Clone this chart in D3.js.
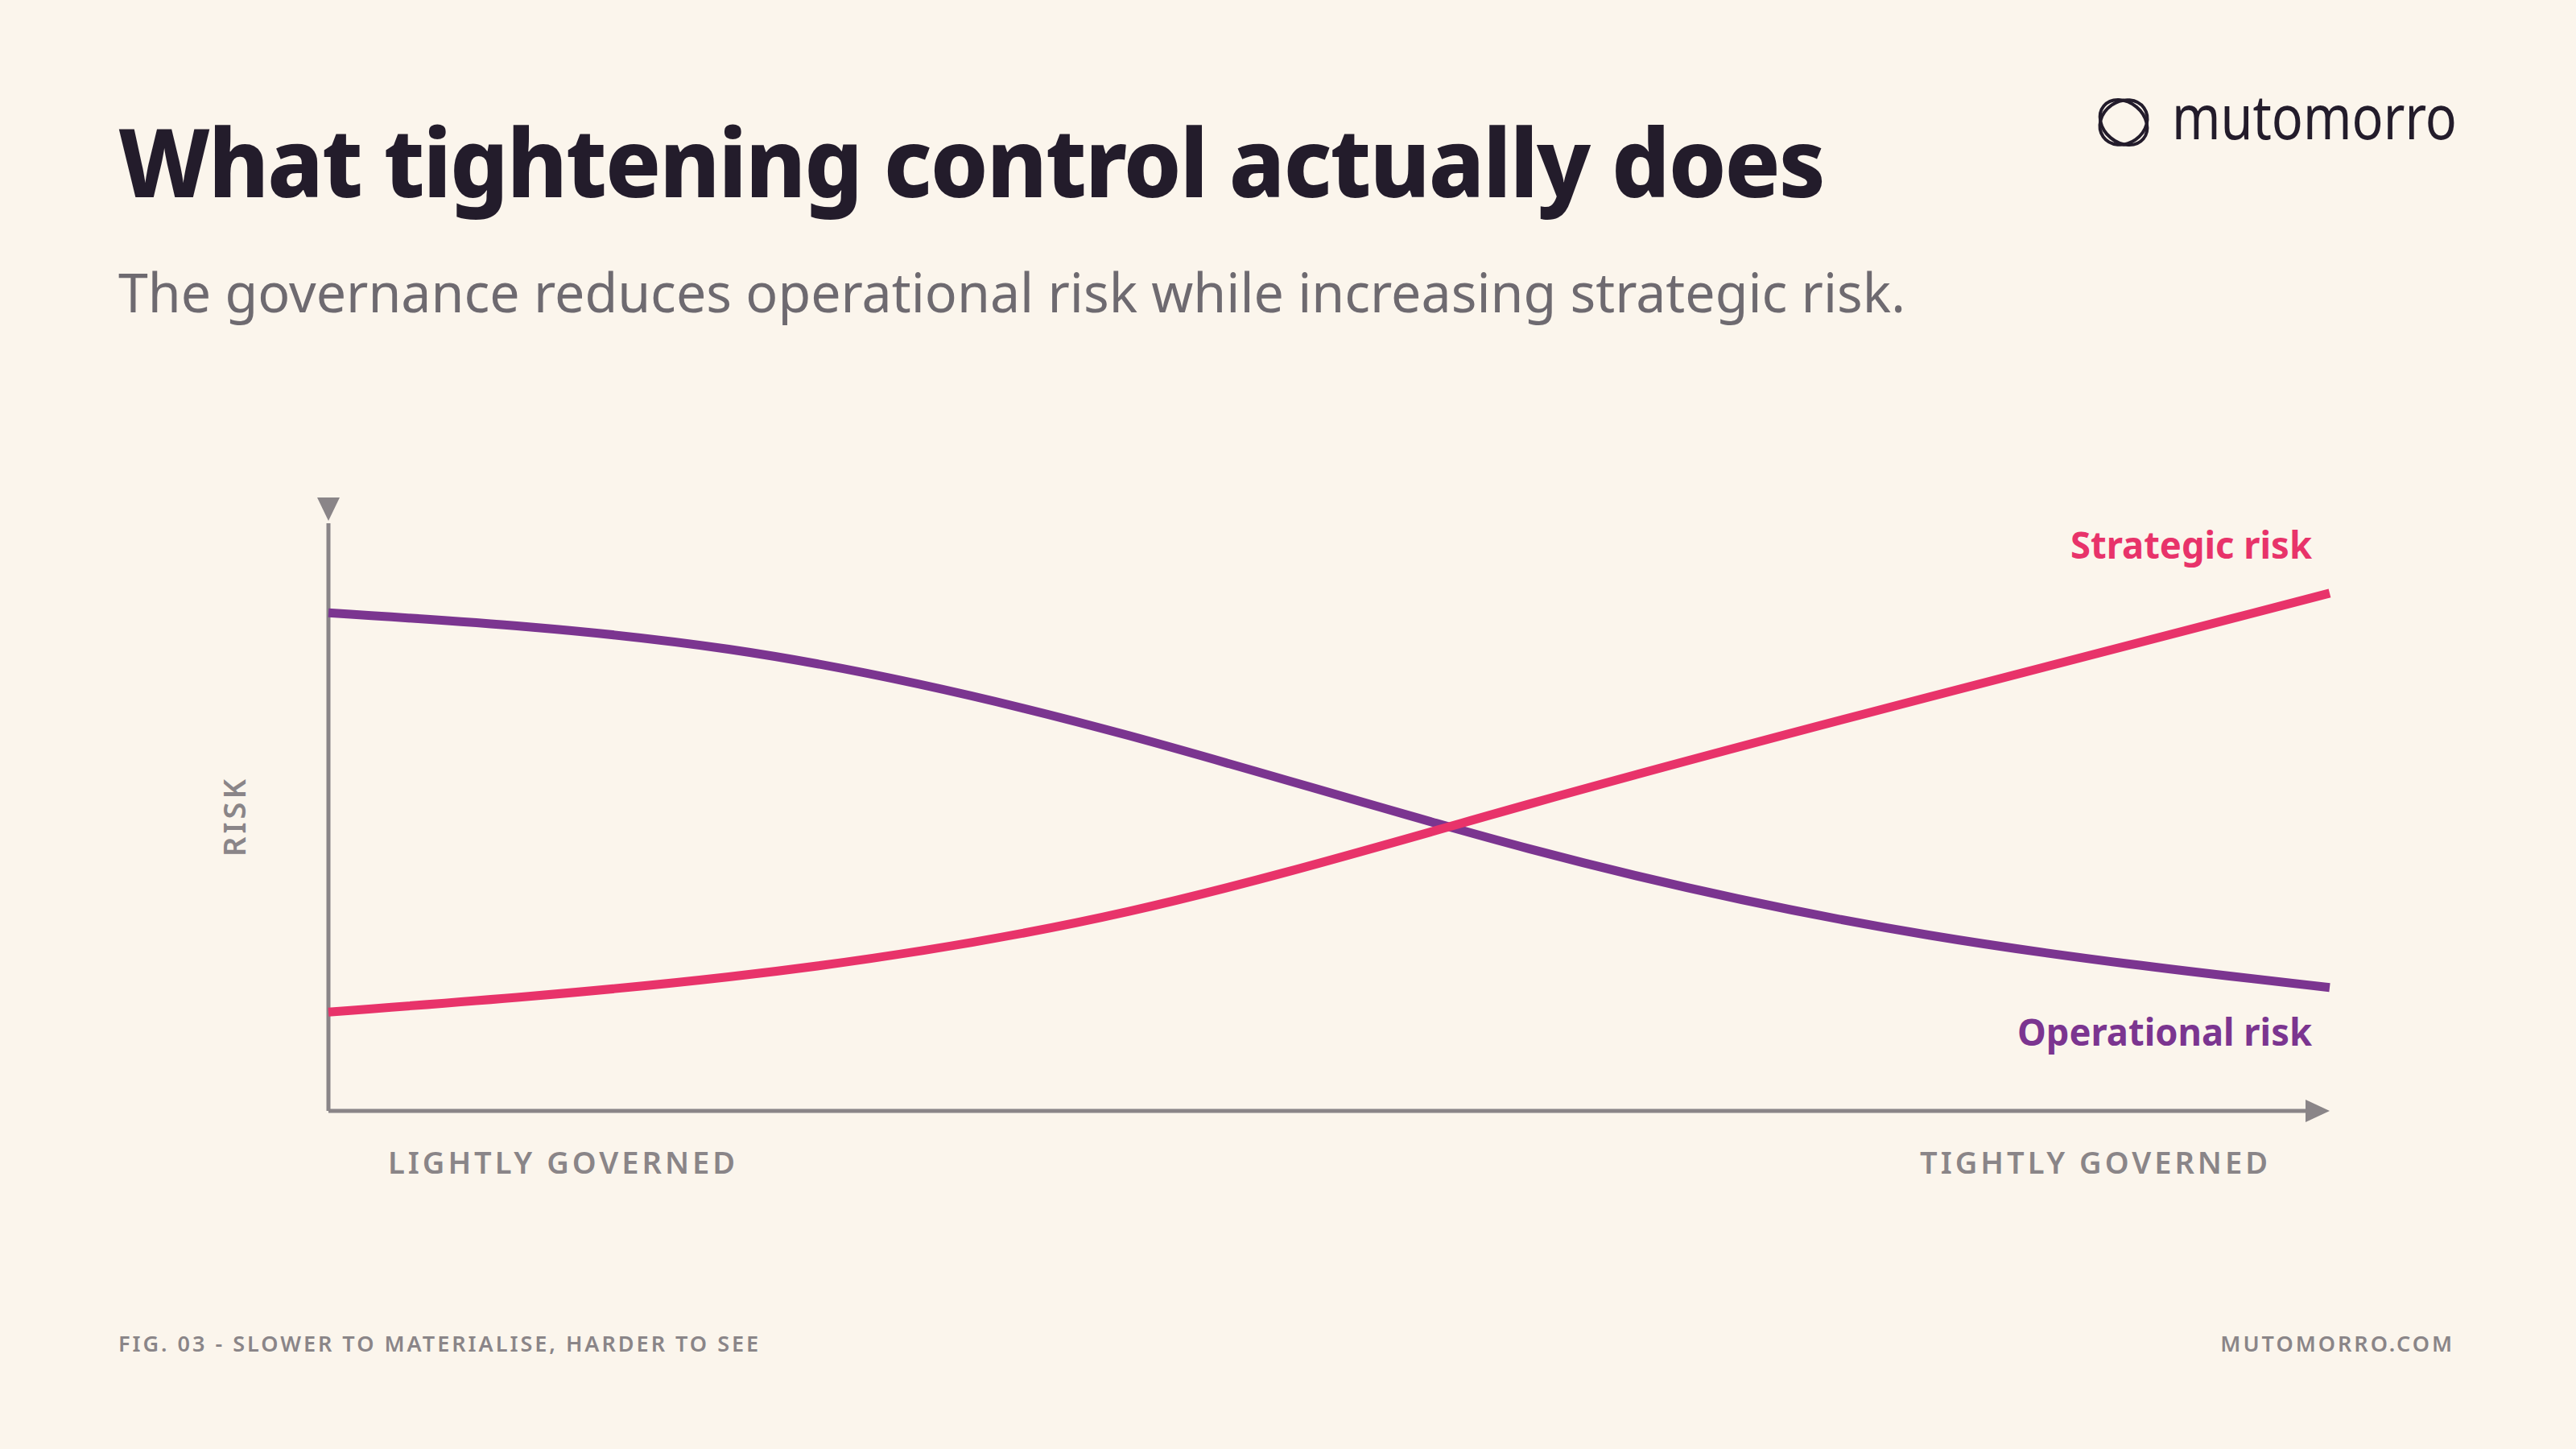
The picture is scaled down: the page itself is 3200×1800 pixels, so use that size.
<!DOCTYPE html>
<html><head><meta charset="utf-8">
<script src="https://cdn.jsdelivr.net/npm/d3@7"></script>
<style>body{margin:0;background:#fbf5ec}svg{display:block}</style>
</head><body><svg id="c" width="3200" height="1800"></svg>
<script>
const xSteps = [0, 2, 4, 6, 8, 10];
const strategicRisk = [16.6, 22.5, 33.5, 51.5, 69.5, 86.9];
const operationalRisk = [83.6, 77.5, 63, 44, 29.5, 20.7];
const xLabels = ["LIGHTLY GOVERNED", "TIGHTLY GOVERNED"];
const yLabel = "RISK";

const svg = d3.select("#c");
svg.append("rect").attr("width",3200).attr("height",1800).attr("fill","#fbf5ec");
const F = "'Source Sans Pro','Noto Sans',sans-serif";

svg.append("text").attr("x",147).attr("y",245).attr("font-family",F).attr("font-weight",800)
  .attr("font-size",118).attr("fill","#231c2b").attr("letter-spacing",-2).attr("textLength",2119).attr("lengthAdjust","spacingAndGlyphs")
  .text("What tightening control actually does");
svg.append("text").attr("x",147).attr("y",388).attr("font-family",F).attr("font-size",68).attr("fill","#6e6a70")
  .attr("textLength",2220).attr("lengthAdjust","spacingAndGlyphs")
  .text("The governance reduces operational risk while increasing strategic risk.");

// logo
const lg = svg.append("g").attr("transform","translate(2638,152)").attr("fill","none").attr("stroke","#231c2b").attr("stroke-width",4);
lg.append("ellipse").attr("rx",32).attr("ry",25).attr("transform","rotate(40)");
lg.append("ellipse").attr("rx",31).attr("ry",26).attr("transform","rotate(-35)");
svg.append("text").attr("x",2698).attr("y",173).attr("font-family",F).attr("font-size",76).attr("fill","#231c2b")
  .attr("textLength",354).attr("lengthAdjust","spacingAndGlyphs").text("mutomorro");

const x = d3.scaleLinear().domain([0,10]).range([408,2894]);
const y = d3.scaleLinear().domain([0,100]).range([1380,640]);
const axisC = "#8a8588";
svg.append("line").attr("x1",x(0)).attr("x2",x(10)-20).attr("y1",y(0)).attr("y2",y(0)).attr("stroke",axisC).attr("stroke-width",5);
svg.append("line").attr("x1",x(0)).attr("x2",x(0)).attr("y1",y(0)).attr("y2",y(0)-730).attr("stroke",axisC).attr("stroke-width",5);
svg.append("path").attr("d",`M${x(10)},${y(0)} l-30,-14 v28 z`).attr("fill",axisC);
svg.append("path").attr("d",`M${x(0)},${y(0)-733} l-14,-29 h28 z`).attr("fill",axisC);

const line = d3.line().x((d,i)=>x(xSteps[i])).y(d=>y(d)).curve(d3.curveNatural);
svg.append("path").attr("d",line(operationalRisk)).attr("fill","none").attr("stroke","#7b3590").attr("stroke-width",11);
svg.append("path").attr("d",line(strategicRisk)).attr("fill","none").attr("stroke","#e8336a").attr("stroke-width",11);

svg.append("text").attr("x",2872).attr("y",694).attr("text-anchor","end").attr("font-family",F).attr("font-weight",700)
  .attr("font-size",46).attr("fill","#e8336a").attr("textLength",300).attr("lengthAdjust","spacingAndGlyphs").text("Strategic risk");
svg.append("text").attr("x",2872).attr("y",1299).attr("text-anchor","end").attr("font-family",F).attr("font-weight",700)
  .attr("font-size",46).attr("fill","#7b3590").attr("textLength",366).attr("lengthAdjust","spacingAndGlyphs").text("Operational risk");

const lab = {"font-family":F,"font-weight":600,"font-size":38,"fill":"#8a8588","letter-spacing":4};
function T(t,xx,yy,anc){const e=svg.append("text").attr("x",xx).attr("y",yy).attr("text-anchor",anc||"start");for(const k in lab)e.attr(k,lab[k]);return e.text(t);}
T(xLabels[0],482,1458);
T(xLabels[1],2821,1458,"end");
T(yLabel,0,0,"middle").attr("transform","translate(305,1014) rotate(-90)");

const ft = {"font-family":F,"font-weight":600,"font-size":27,"fill":"#8a8588","letter-spacing":3};
function Fo(t,xx,anc){const e=svg.append("text").attr("x",xx).attr("y",1679).attr("text-anchor",anc);for(const k in ft)e.attr(k,ft[k]);return e.text(t);}
Fo("FIG. 03 - SLOWER TO MATERIALISE, HARDER TO SEE",147,"start");
Fo("MUTOMORRO.COM",3049,"end");
</script></body></html>
